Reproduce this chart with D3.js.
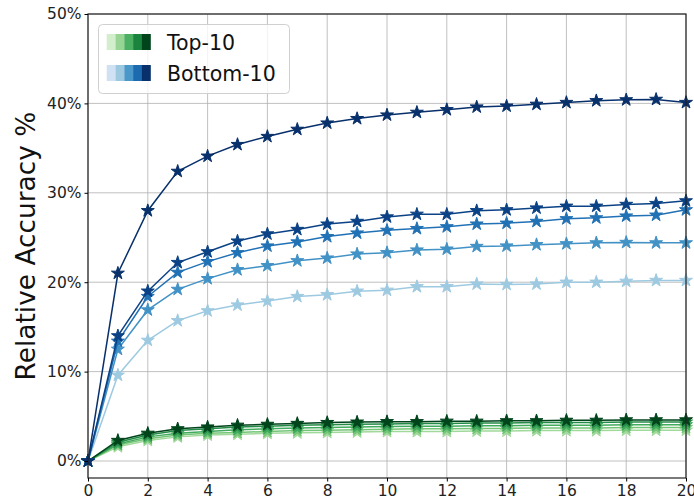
<!DOCTYPE html>
<html>
<head>
<meta charset="utf-8">
<script src="https://d3js.org/d3.v7.min.js"></script>
<style>
  body { margin: 0; background: #fff; }
  text { font-family: "DejaVu Sans", sans-serif; }
</style>
</head>
<body>
<div id="chart"></div>
<script>
const steps = d3.range(0, 21);

// bottom-10 series (light to dark)
const bottom1 = [0, 9.6, 13.5, 15.7, 16.8, 17.45, 17.9, 18.4, 18.6, 19.0, 19.1, 19.5, 19.5, 19.8, 19.75, 19.8, 20.0, 20.0, 20.1, 20.2, 20.2];
const bottom2 = [0, 12.5, 16.9, 19.2, 20.4, 21.4, 21.85, 22.4, 22.7, 23.15, 23.3, 23.6, 23.7, 24.0, 24.05, 24.2, 24.3, 24.4, 24.45, 24.4, 24.4];
const bottom3 = [0, 13.4, 18.4, 21.1, 22.3, 23.3, 24.05, 24.5, 25.1, 25.5, 25.8, 26.0, 26.2, 26.5, 26.6, 26.8, 27.1, 27.2, 27.4, 27.5, 28.1];
const bottom4 = [0, 14.0, 19.0, 22.2, 23.4, 24.6, 25.4, 25.9, 26.5, 26.8, 27.3, 27.6, 27.6, 28.0, 28.1, 28.3, 28.5, 28.5, 28.7, 28.8, 29.1];
const bottom5 = [0, 21.0, 28.0, 32.4, 34.1, 35.4, 36.3, 37.1, 37.8, 38.3, 38.7, 39.0, 39.3, 39.6, 39.7, 39.9, 40.1, 40.3, 40.4, 40.45, 40.1];

// top-10 series (light to dark)
const top1 = [0, 1.6, 2.3, 2.7, 2.9, 3.0, 3.1, 3.15, 3.2, 3.25, 3.3, 3.3, 3.3, 3.35, 3.35, 3.4, 3.4, 3.4, 3.45, 3.45, 3.45];
const top2 = [0, 1.8, 2.5, 2.9, 3.1, 3.2, 3.3, 3.4, 3.45, 3.5, 3.55, 3.6, 3.6, 3.65, 3.65, 3.7, 3.7, 3.7, 3.75, 3.75, 3.75];
const top3 = [0, 1.9, 2.7, 3.1, 3.3, 3.5, 3.6, 3.7, 3.75, 3.8, 3.85, 3.9, 3.9, 3.95, 3.95, 4.0, 4.0, 4.0, 4.05, 4.05, 4.05];
const top4 = [0, 2.1, 2.9, 3.4, 3.6, 3.8, 3.9, 4.0, 4.05, 4.1, 4.15, 4.2, 4.2, 4.25, 4.25, 4.3, 4.3, 4.3, 4.35, 4.35, 4.35];
const top5 = [0, 2.3, 3.1, 3.6, 3.8, 4.0, 4.1, 4.2, 4.3, 4.35, 4.4, 4.4, 4.45, 4.45, 4.5, 4.5, 4.55, 4.55, 4.6, 4.6, 4.6];

const blueColors = ["#9ecae1", "#4292c6", "#2171b5", "#0b4285", "#08306b"];
const greenColors = ["#a1d99b", "#74c476", "#41ab5d", "#238b45", "#00441b"];
const blueLegend = ["#cfe1f2", "#9cc9e0", "#4a98c9", "#1c6aaf", "#08306b"];
const greenLegend = ["#d3eecd", "#98d594", "#4bb062", "#1a843f", "#00441b"];

const xTicks = d3.range(0, 21, 2);
const yTicks = [0, 10, 20, 30, 40, 50];

const width = 694, height = 500;
const margin = {left: 88, right: 8, top: 14, bottom: 22};

const svg = d3.select("#chart")
  .append("svg")
  .attr("width", width)
  .attr("height", height);

const x = d3.scaleLinear()
  .domain([0, 20])
  .range([margin.left, width - margin.right]);

const y = d3.scaleLinear()
  .domain([-1.9, 50])
  .range([height - margin.bottom, margin.top]);

// grid
svg.append("g")
  .selectAll("line")
  .data(xTicks)
  .join("line")
  .attr("x1", d => x(d)).attr("x2", d => x(d))
  .attr("y1", y(50)).attr("y2", y(-1.9))
  .attr("stroke", "#b0b0b0")
  .attr("stroke-width", 0.8);

svg.append("g")
  .selectAll("line")
  .data(yTicks)
  .join("line")
  .attr("x1", x(0)).attr("x2", x(20))
  .attr("y1", d => y(d)).attr("y2", d => y(d))
  .attr("stroke", "#b0b0b0")
  .attr("stroke-width", 0.8);

const line = d3.line()
  .x((d, i) => x(steps[i]))
  .y(d => y(d));

const star = d3.symbol().type(d3.symbolStar).size(52);

function drawSeries(values, color) {
  const g = svg.append("g");
  g.append("path")
    .datum(values)
    .attr("d", line)
    .attr("fill", "none")
    .attr("stroke", color)
    .attr("stroke-width", 1.5);
  g.selectAll("path.pt")
    .data(values)
    .join("path")
    .attr("class", "pt")
    .attr("d", star)
    .attr("transform", (d, i) => `translate(${x(steps[i])},${y(d)})`)
    .attr("fill", color)
    .attr("stroke", color)
    .attr("stroke-width", 1);
}

[top1, top2, top3, top4, top5].forEach((s, i) => drawSeries(s, greenColors[i]));
[bottom1, bottom2, bottom3, bottom4, bottom5].forEach((s, i) => drawSeries(s, blueColors[i]));

// frame
svg.append("rect")
  .attr("x", x(0)).attr("y", y(50))
  .attr("width", x(20) - x(0))
  .attr("height", y(-1.9) - y(50))
  .attr("fill", "none")
  .attr("stroke", "#222")
  .attr("stroke-width", 1.2);

// axes
const xAxis = svg.append("g")
  .attr("transform", `translate(0,${y(-1.9)})`)
  .call(d3.axisBottom(x).tickValues(xTicks).tickSize(3.5).tickPadding(3));
xAxis.select(".domain").remove();
xAxis.selectAll("text").attr("font-size", 15.5).attr("fill", "#222").style("font-family", "DejaVu Sans");

const yAxis = svg.append("g")
  .attr("transform", `translate(${x(0)},0)`)
  .call(d3.axisLeft(y).tickValues(yTicks).tickFormat(d => d + "%").tickSize(3.5).tickPadding(3));
yAxis.select(".domain").remove();
yAxis.selectAll("text").attr("font-size", 15.5).attr("fill", "#222").style("font-family", "DejaVu Sans");

svg.append("text")
  .attr("transform", `translate(35,${(y(50) + y(-1.9)) / 2}) rotate(-90)`)
  .attr("text-anchor", "middle")
  .attr("font-size", 26.4)
  .attr("fill", "#111")
  .text("Relative Accuracy %");

// legend
const legend = svg.append("g");
legend.append("rect")
  .attr("x", 98.5).attr("y", 24.5)
  .attr("width", 191).attr("height", 69)
  .attr("rx", 4)
  .attr("fill", "rgba(255,255,255,0.8)")
  .attr("stroke", "#d0d0d0");

const legendRows = [
  {label: "Top-10", colors: greenLegend, y: 34},
  {label: "Bottom-10", colors: blueLegend, y: 65}
];
legendRows.forEach(row => {
  legend.selectAll(null)
    .data(row.colors)
    .join("rect")
    .attr("x", (d, i) => 106.7 + i * 8.8)
    .attr("y", row.y)
    .attr("width", 8.9)
    .attr("height", 16)
    .attr("fill", d => d);
  legend.append("text")
    .attr("x", 167)
    .attr("y", row.y + 15.5)
    .attr("font-size", 20.5)
    .attr("fill", "#111")
    .text(row.label);
});
</script>
</body>
</html>
